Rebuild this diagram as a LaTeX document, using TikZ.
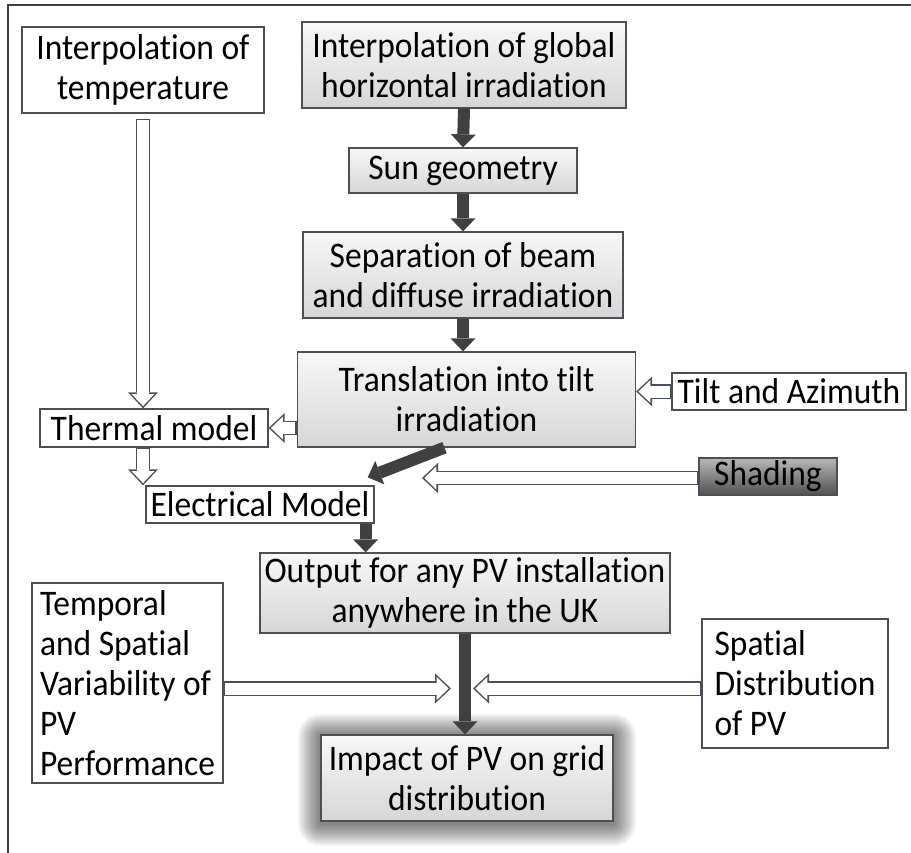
\documentclass[tikz,border=0pt]{standalone}
\usepackage{fontspec}
\setmainfont{Carlito}[FakeStretch=0.93,Ligatures=NoCommon]
\usetikzlibrary{arrows.meta,calc,backgrounds}
\definecolor{edge}{RGB}{75,80,88}
\definecolor{darkarr}{RGB}{64,64,64}

\begin{document}
\begin{tikzpicture}[x=1pt,y=-1pt,font=\fontsize{36}{40}\selectfont,
    box/.style={draw=edge,line width=1.3pt,fill=white,inner sep=0pt,align=center},
    fat/.style={draw=darkarr,line width=12pt,-{Triangle[length=13pt,width=25pt,line width=0pt]}},
    hollow/.style={draw=edge,line width=14.6pt,-{Triangle[length=16pt,width=30pt,line width=0pt]},
        postaction={draw=white,line width=12pt,-{Triangle[length=12pt,width=23pt,line width=0pt]},
        shorten >=2.3pt,shorten <=1.5pt}}]
    \tikzstyle{grad}=[box,top color=gray!6,bottom color=gray!32]
    \useasboundingbox (0,0) rectangle (911,853);
    \draw[darkarr,line width=2.4pt] (8,853) -- (8,5) -- (911,5);

    \node[box,minimum width=242pt,minimum height=86pt] (temp) at (143,70) {Interpolation of\\temperature};
    \node[grad,minimum width=324pt,minimum height=86pt] (ghi) at (464,65) {Interpolation of global\\horizontal irradiation};
    \node[grad,minimum width=228pt,minimum height=45pt] (sun) at (463,170.5) {Sun geometry};
    \node[grad,minimum width=320pt,minimum height=86pt] (sep) at (463,275) {Separation of beam\\and diffuse irradiation};
    \node[grad,minimum width=338pt,minimum height=95pt] (trans) at (466.5,399.5) {Translation into tilt\\irradiation};
    \node[box,minimum width=234pt,minimum height=37pt] (tilt) at (789,391.5) {Tilt and Azimuth};
    \node[box,minimum width=228pt,minimum height=38pt] (thermal) at (154,428) {Thermal model};
    \node[box,top color=black!28,bottom color=black!68,minimum width=138pt,minimum height=37pt] (shading) at (768,476.5) {Shading};
    \node[box,minimum width=228pt,minimum height=37pt] (elec) at (260,504.5) {Electrical Model};
    \node[grad,minimum width=410pt,minimum height=80pt] (output) at (465,593) {Output for any PV installation\\anywhere in the UK};
    \node[box,align=left,minimum width=191pt,minimum height=200pt] (temporal) at (127.5,683) {Temporal\\and Spatial\\Variability of\\PV\\Performance};
    \node[box,align=left,minimum width=186pt,minimum height=129pt] (spatial) at (795,683.5) {Spatial\\Distribution\\of PV};
    \node[grad,minimum width=292pt,minimum height=86pt] (impact) at (467,778) {Impact of PV on grid\\distribution};

    % soft glow round the last box
    \begin{scope}[on background layer]
    \foreach \r in {2,4,...,22}
        \fill[black,opacity=0.055,rounded corners=\r pt] ($(impact.north west)+(-\r,-\r+2)$) rectangle ($(impact.south east)+(\r,\r+2)$);
    \end{scope}

    \coordinate (shadeend) at (422,478);
    \coordinate (leftend) at (451,688.5);
    \coordinate (rightend) at (473,688.5);

    \draw[fat] (ghi.south) -- (sun.north);
    \draw[fat] (sun.south) -- (sep.north);
    \draw[fat] (sep.south) -- (sep.south |- trans.north);
    \draw[fat] ($(trans.south)+(-22,0)$) -- ($(elec.north east)+(-7,-8)$);
    \draw[fat] ([xshift=-9pt]elec.south east) -- ([xshift=-9pt]elec.south east |- output.north);
    \draw[fat] (output.south) -- (output.south |- impact.north);

    \draw[hollow] ([yshift=-5pt]temp.south) -- (temp.south |- thermal.north);
    \draw[hollow] (trans.west |- thermal.east) -- (thermal.east);
    \draw[hollow] (temp.south |- thermal.south) -- (temp.south |- elec.north);
    \draw[hollow] (tilt.west) -- (tilt.west -| trans.east);
    \draw[hollow] (shadeend -| shading.west) -- (shadeend);
    \draw[hollow] (leftend -| temporal.east) -- (leftend);
    \draw[hollow] (rightend -| spatial.west) -- (rightend);

\end{tikzpicture}
\end{document}
